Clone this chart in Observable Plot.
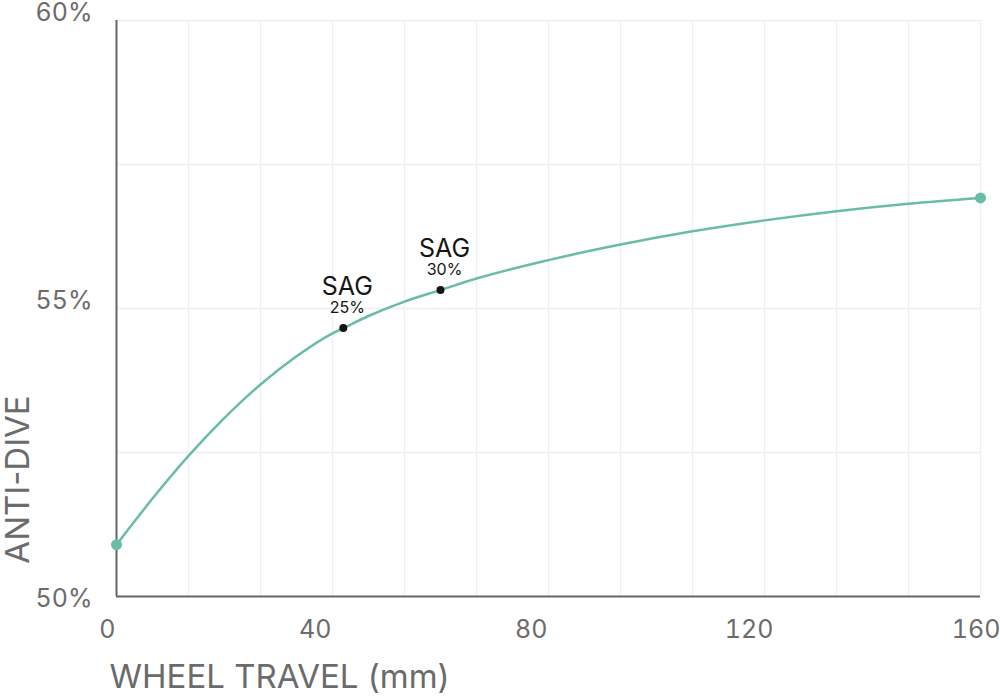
<!DOCTYPE html>
<html><head><meta charset="utf-8">
<script src="https://cdn.jsdelivr.net/npm/d3@7"></script>
<script src="https://cdn.jsdelivr.net/npm/@observablehq/plot@0.6"></script>
<style>html,body{margin:0;padding:0;background:#fff;}</style>
</head><body><div id="chart"></div>
<script>
// Curve samples (wheel travel mm -> anti-dive %)
const travel   = [0, 6.67, 13.33, 20, 26.67, 33.33, 40, 42, 46.67, 53.33, 60, 66.67, 80, 93.33, 106.67, 120, 133.33, 146.67, 160];
const antiDive = [50.90, 51.70, 52.44, 53.10, 53.68, 54.17, 54.57, 54.66, 54.87, 55.12, 55.32, 55.52, 55.84, 56.11, 56.34, 56.53, 56.69, 56.82, 56.92];

// End points
const endTravel   = [0, 160];
const endAntiDive = [50.90, 56.92];

// Sag markers
const sagTravel   = [42, 60];
const sagAntiDive = [54.66, 55.32];
const sagTitle    = ["SAG", "SAG"];
const sagPct      = ["25%", "30%"];

// Ticks / grid
const xGridTicks  = [13.33, 26.67, 40, 53.33, 66.67, 80, 93.33, 106.67, 120, 133.33, 146.67, 160];
const yGridTicks  = [52.5, 55, 57.5, 60];
const xTicksMain  = [0, 40, 80];
const xTick120    = [120];
const xTick160    = [160];
const yTicksUpper = [55, 60];
const yTickBottom = [50];
const xLabel = "WHEEL TRAVEL (mm)";
const yLabel = "ANTI-DIVE";

const teal = "#69bca7";
const grey = "#6b6b6b";

const curve = travel.map((t, i) => ({travel: t, antiDive: antiDive[i]}));
const ends = endTravel.map((t, i) => ({travel: t, antiDive: endAntiDive[i]}));
const sags = sagTravel.map((t, i) => ({travel: t, antiDive: sagAntiDive[i], title: sagTitle[i], pct: sagPct[i]}));

const chart = Plot.plot({
  width: 1000,
  height: 696,
  marginLeft: 116,
  marginRight: 20,
  marginTop: 20,
  marginBottom: 100,
  x: {domain: [0, 160]},
  y: {domain: [50, 60]},
  style: {fontFamily: "Inter, 'Noto Sans', sans-serif", background: "#fff", overflow: "visible"},
  marks: [
    Plot.gridX(xGridTicks, {stroke: "#efefef", strokeOpacity: 1, strokeWidth: 1.5}),
    Plot.gridY(yGridTicks, {stroke: "#efefef", strokeOpacity: 1, strokeWidth: 1.5}),
    Plot.ruleX([0], {stroke: "#666", strokeWidth: 2}),
    Plot.ruleY([50], {stroke: "#666", strokeWidth: 2}),
    Plot.axisX(xTicksMain, {tickSize: 0, tickPadding: 24, textAnchor: "end", dx: -1, fontSize: 25, fill: grey, label: null}),
    Plot.axisX(xTick120, {tickSize: 0, tickPadding: 24, textAnchor: "end", dx: 9, fontSize: 25, fill: grey, label: null}),
    Plot.axisX(xTick160, {tickSize: 0, tickPadding: 24, textAnchor: "end", dx: 20, fontSize: 25, fill: grey, label: null}),
    Plot.axisY(yTicksUpper, {tickSize: 0, tickPadding: 24, lineAnchor: "bottom", fontSize: 25, fill: grey, label: null, tickFormat: d => d + "%"}),
    Plot.axisY(yTickBottom, {tickSize: 0, tickPadding: 24, lineAnchor: "bottom", dy: 10, fontSize: 25, fill: grey, label: null, tickFormat: d => d + "%"}),
    Plot.text([xLabel], {frameAnchor: "bottom-left", textAnchor: "start", lineAnchor: "bottom", dx: -7, dy: 91, fontSize: 33, fill: grey}),
    Plot.text([yLabel], {frameAnchor: "left", textAnchor: "middle", lineAnchor: "bottom", rotate: -90, dx: -88, dy: 171, fontSize: 33, fill: grey}),
    Plot.line(curve, {x: "travel", y: "antiDive", curve: "monotone-x", stroke: teal, strokeWidth: 2.5}),
    Plot.dot(ends, {x: "travel", y: "antiDive", r: 5.5, fill: teal, stroke: "none"}),
    Plot.dot(sags, {x: "travel", y: "antiDive", r: 4, fill: "#151515", stroke: "none"}),
    Plot.text(sags, {x: "travel", y: "antiDive", text: "title", dx: 4, dy: -33, lineAnchor: "bottom", fontSize: 25, fill: "#151515"}),
    Plot.text(sags, {x: "travel", y: "antiDive", text: "pct", dx: 4, dy: -15, lineAnchor: "bottom", fontSize: 16, fill: "#151515"})
  ]
});
document.getElementById("chart").appendChild(chart);
</script>
</body></html>
